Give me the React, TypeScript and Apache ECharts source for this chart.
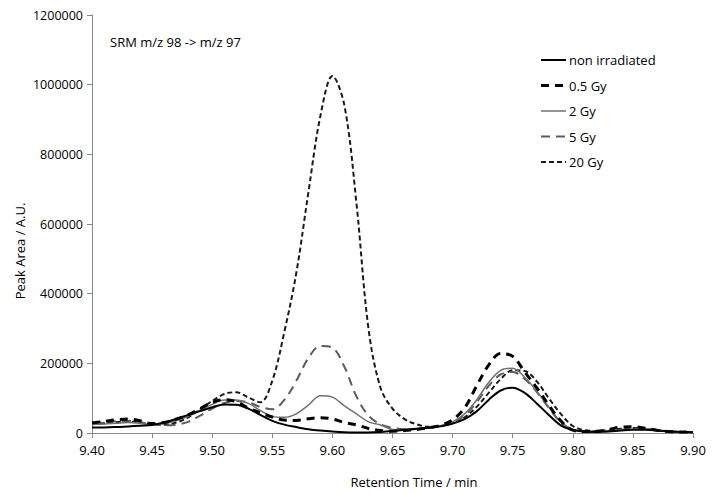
import React, { useEffect, useRef } from "react";
import * as echarts from "echarts";

const times: number[] = [
  9.40, 9.41, 9.42, 9.43, 9.44, 9.45, 9.46, 9.47, 9.48, 9.49,
  9.50, 9.51, 9.52, 9.53, 9.54, 9.55, 9.56, 9.57, 9.58, 9.59,
  9.60, 9.61, 9.62, 9.63, 9.64, 9.65, 9.66, 9.67, 9.68, 9.69,
  9.70, 9.71, 9.72, 9.73, 9.74, 9.75, 9.76, 9.77, 9.78, 9.79,
  9.80, 9.81, 9.82, 9.83, 9.84, 9.85, 9.86, 9.87, 9.88, 9.89, 9.90,
];

const nonIrradiated: number[] = [
  16000, 16000, 17000, 19000, 21000, 23000, 30000, 40000, 52000, 63000,
  74000, 82000, 81000, 70000, 52000, 35000, 24000, 17000, 11000, 7000,
  4000, 2000, 1500, 1500, 3000, 6000, 9000, 12000, 15000, 19000,
  27000, 40000, 62000, 95000, 122000, 130000, 115000, 85000, 52000, 22000,
  9000, 4000, 3000, 4000, 7000, 9000, 9000, 7000, 4000, 3000, 2000,
];

const gy05: number[] = [
  29000, 33000, 38000, 40000, 35000, 27000, 30000, 40000, 52000, 70000,
  88000, 96000, 90000, 72000, 58000, 46000, 37000, 36000, 41000, 44000,
  40000, 30000, 23000, 13000, 7000, 5000, 7000, 10000, 15000, 22000,
  38000, 72000, 135000, 195000, 228000, 220000, 175000, 130000, 80000, 35000,
  8000, 4000, 5000, 10000, 17000, 18000, 14000, 8000, 4000, 3000, 2000,
];

const gy2: number[] = [
  25000, 26000, 28000, 30000, 28000, 25000, 27000, 35000, 48000, 65000,
  82000, 95000, 95000, 85000, 65000, 47000, 45000, 55000, 80000, 107000,
  103000, 78000, 55000, 32000, 23000, 10000, 8000, 11000, 16000, 21000,
  32000, 55000, 95000, 145000, 180000, 186000, 160000, 120000, 75000, 32000,
  10000, 5000, 4000, 6000, 9000, 11000, 12000, 9000, 5000, 3000, 2000,
];

const gy5: number[] = [
  30000, 32000, 34000, 35000, 31000, 25000, 22000, 24000, 32000, 50000,
  70000, 86000, 92000, 88000, 75000, 68000, 95000, 150000, 215000, 250000,
  245000, 190000, 105000, 50000, 25000, 15000, 11000, 12000, 15000, 20000,
  30000, 50000, 88000, 135000, 168000, 175000, 155000, 118000, 72000, 30000,
  10000, 5000, 4000, 6000, 9000, 11000, 11000, 8000, 5000, 3000, 2000,
];

const gy20: number[] = [
  25000, 28000, 31000, 33000, 30000, 25000, 24000, 30000, 45000, 68000,
  92000, 112000, 117000, 102000, 88000, 150000, 290000, 460000, 690000, 910000,
  1025000, 940000, 660000, 300000, 130000, 70000, 40000, 25000, 18000, 20000,
  28000, 45000, 75000, 115000, 155000, 180000, 178000, 148000, 100000, 55000,
  20000, 8000, 6000, 8000, 12000, 14000, 12000, 8000, 5000, 3000, 2000,
];

const seriesNames: string[] = ["non irradiated", "0.5 Gy", "2 Gy", "5 Gy", "20 Gy"];
const yTicks = { min: 0, max: 1200000, interval: 200000 };
const xTicks = { min: 9.4, max: 9.9, interval: 0.05 };

const FONT = "Open Sans";

export default function App() {
  const ref = useRef<HTMLDivElement>(null);
  useEffect(() => {
    if (!ref.current) return;
    const chart = echarts.init(ref.current, undefined, { renderer: "svg" });
    const pair = (vals: number[]) => times.map((t, i) => [t, vals[i]]);
    const styles = [
      { color: "#000000", width: 2, type: "solid" as any },
      { color: "#000000", width: 3, type: [8, 6] as any },
      { color: "#707070", width: 1.5, type: "solid" as any },
      { color: "#5c5c5c", width: 2, type: [9, 6] as any },
      { color: "#1a1a1a", width: 2, type: [5, 3] as any },
    ];
    const dataSets = [nonIrradiated, gy05, gy2, gy5, gy20];

    const legendX = 541;
    const legendY0 = 60;
    const legendStep = 25.5;
    const legendGraphics: any[] = [];
    seriesNames.forEach((name, i) => {
      const y = legendY0 + i * legendStep;
      const st = styles[i];
      legendGraphics.push({
        type: "line",
        shape: { x1: legendX, y1: y, x2: legendX + 25, y2: y },
        style: {
          stroke: st.color,
          lineWidth: st.width,
          lineDash: Array.isArray(st.type) ? st.type : null,
        },
      });
      legendGraphics.push({
        type: "text",
        x: legendX + 28,
        y,
        style: { text: name, fontFamily: FONT, fontSize: 13, fill: "#000", textVerticalAlign: "middle" },
      });
    });

    chart.setOption({
      animation: false,
      backgroundColor: "#ffffff",
      textStyle: { fontFamily: FONT, color: "#000" },
      grid: { left: 92, right: 30, top: 15, bottom: 61 },
      legend: { show: false, data: seriesNames },
      xAxis: {
        type: "value",
        min: xTicks.min,
        max: xTicks.max,
        interval: xTicks.interval,
        axisLine: { lineStyle: { color: "#888888", width: 1 } },
        axisTick: { show: true, length: 5, lineStyle: { color: "#888888" } },
        splitLine: { show: false },
        axisLabel: {
          fontFamily: FONT,
          fontSize: 13,
          color: "#000",
          margin: 10,
          formatter: (v: number) => v.toFixed(2),
        },
      },
      yAxis: {
        type: "value",
        min: yTicks.min,
        max: yTicks.max,
        interval: yTicks.interval,
        axisLine: { show: true, lineStyle: { color: "#888888", width: 1 } },
        axisTick: { show: true, length: 5, lineStyle: { color: "#888888" } },
        splitLine: { show: false },
        axisLabel: {
          fontFamily: FONT,
          fontSize: 12.5,
          color: "#000",
          margin: 9,
          formatter: (v: number) => String(Math.round(v)),
        },
      },
      graphic: [
        {
          type: "text",
          x: 110,
          y: 42,
          style: { text: "SRM m/z 98 -> m/z 97", fontFamily: FONT, fontSize: 13, fill: "#000", textVerticalAlign: "middle" },
        },
        {
          type: "text",
          x: 20,
          y: 251,
          rotation: Math.PI / 2,
          style: { text: "Peak Area / A.U.", fontFamily: FONT, fontSize: 13, fill: "#000", textAlign: "center", textVerticalAlign: "middle" },
        },
        {
          type: "text",
          x: 414,
          y: 482,
          style: { text: "Retention Time / min", fontFamily: FONT, fontSize: 13, fill: "#000", textAlign: "center", textVerticalAlign: "middle" },
        },
        ...legendGraphics,
      ],
      series: seriesNames.map((name, i) => ({
        name,
        type: "line",
        data: pair(dataSets[i]),
        smooth: 0.35,
        symbol: "none",
        lineStyle: styles[i],
        itemStyle: { color: styles[i].color },
        z: 10 - i,
      })),
    });
    return () => chart.dispose();
  }, []);
  return <div ref={ref} style={{ width: 723, height: 494, position: "absolute", left: 0, top: 0 }} />;
}
